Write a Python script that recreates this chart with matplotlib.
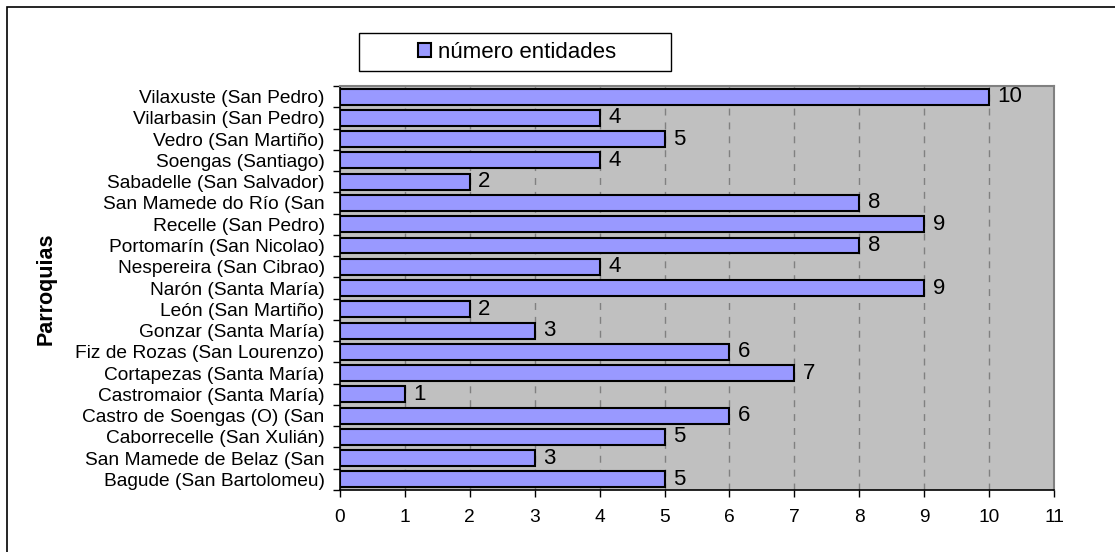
import numpy as np
import matplotlib
matplotlib.use('Agg')
import matplotlib.pyplot as plt
from matplotlib.patches import Rectangle

# Data, bottom to top as drawn
PARROQUIAS = ['Bagude (San Bartolomeu)', 'San Mamede de Belaz (San',
              'Caborrecelle (San Xulián)', 'Castro de Soengas (O) (San',
              'Castromaior (Santa María)', 'Cortapezas (Santa María)',
              'Fiz de Rozas (San Lourenzo)', 'Gonzar (Santa María)',
              'León (San Martiño)', 'Narón (Santa María)',
              'Nespereira (San Cibrao)', 'Portomarín (San Nicolao)',
              'Recelle (San Pedro)', 'San Mamede do Río (San',
              'Sabadelle (San Salvador)', 'Soengas (Santiago)',
              'Vedro (San Martiño)', 'Vilarbasin (San Pedro)',
              'Vilaxuste (San Pedro)']
ENTIDADES = [5, 3, 5, 6, 1, 7, 6, 3, 2, 9, 4, 8, 9, 8, 2, 4, 5, 4, 10]
X_TICKS = list(range(0, 12))

plt.rcParams['font.family'] = ['Liberation Sans', 'DejaVu Sans']

fig = plt.figure(figsize=(11.15, 5.52), dpi=100)
ax = fig.add_axes([0.3049, 0.1123, 0.6404, 0.7319])
ax.set_facecolor('#C0C0C0')

# outer chart border (only left/top visible in the reference)
fig.patches.append(Rectangle((7 / 1115, -0.05), 1.2, (552 - 7) / 552 + 0.05,
                             transform=fig.transFigure, fill=False,
                             edgecolor='black', linewidth=1.2))

y = np.arange(len(PARROQUIAS))
bars = ax.barh(y, ENTIDADES, height=0.75, color='#9999FF', edgecolor='black',
               linewidth=1.5, label='número entidades', zorder=3)
for yi, v in zip(y, ENTIDADES):
    ax.text(v + 0.13, yi, str(v), va='center', ha='left', fontsize=16, zorder=4)

ax.set_xlim(0, 11)
ax.set_ylim(-0.5, len(PARROQUIAS) - 0.5)
ax.set_xticks(X_TICKS)
ax.set_xticklabels([str(t) for t in X_TICKS], fontsize=13.8)
ax.set_yticks(y)
ax.set_yticklabels(PARROQUIAS, fontsize=13.8)
ax.set_yticks(np.arange(-0.5, len(PARROQUIAS)), minor=True)
ax.tick_params(axis='y', which='major', length=0, pad=11)
ax.tick_params(axis='y', which='minor', length=5, width=1, direction='out')
ax.tick_params(axis='x', length=5, width=1, direction='out', pad=9)

ax.grid(axis='x', color='#808080', linestyle=(0, (5, 5)), linewidth=1, zorder=1)
ax.set_axisbelow(True)

for side in ['top', 'right']:
    ax.spines[side].set_color('#808080')
    ax.spines[side].set_linewidth(1.5)
ax.spines['left'].set_linewidth(1.2)
ax.spines['bottom'].set_linewidth(1.2)

fig.text(46 / 1115, 1 - 289 / 552, 'Parroquias', rotation=90, fontsize=15.5,
         fontweight='bold', ha='center', va='center')

# legend box drawn separately, it is wider than its content
fig.patches.append(Rectangle((359 / 1115, 1 - 71 / 552), 312 / 1115, 38 / 552,
                             transform=fig.transFigure, facecolor='white',
                             edgecolor='black', linewidth=1.0))
leg = fig.legend(handles=[bars], loc='center', bbox_to_anchor=(517 / 1115, 1 - 52 / 552),
                 fontsize=16, frameon=False,
                 handlelength=0.6, handleheight=0.6, handletextpad=0.3,
                 borderpad=0, borderaxespad=0)

fig.savefig('out.png', dpi=100)
